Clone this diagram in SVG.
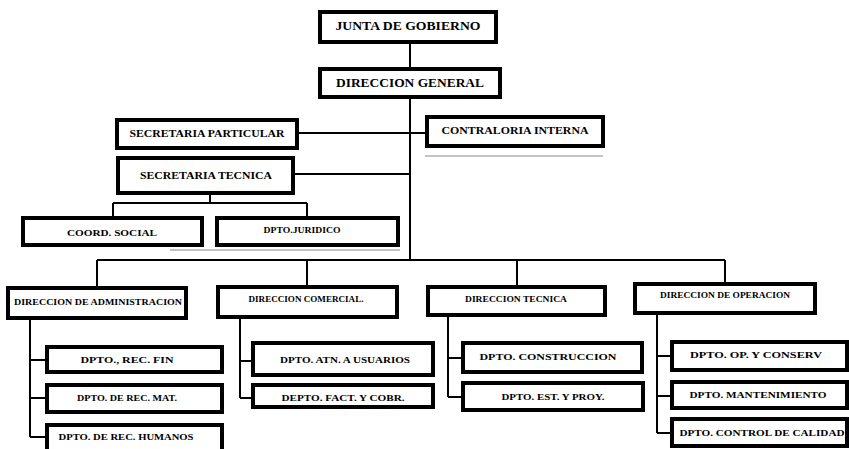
<svg xmlns="http://www.w3.org/2000/svg" width="849" height="449" viewBox="0 0 849 449">
<style>
.box{fill:#fff;stroke:#000;stroke-width:4}
.c{fill:none;stroke:#000;stroke-width:2}
.f{fill:none;stroke:#888;stroke-width:1.2}
text{font-family:"Liberation Serif","Times New Roman",serif;font-weight:bold;fill:#000;text-anchor:middle}
.t1{font-size:12px}
.t2{font-size:10.5px}
.t3{font-size:9px}
</style>
<rect width="849" height="449" fill="#fff"/>
<g id="connectors">
<path class="c" d="M410 42V69M410 97V260M297 133H427M293 174H410"/>
<path class="c" d="M210 193V203M113 203H307M113 203V218M307 203V218"/>
<path class="c" d="M97 260H725M97 260V288M307 260V287M517 260V287M725 260V284"/>
<path class="c" d="M30 318V437M30 360H47M30 398H47M30 437H47"/>
<path class="c" d="M240 317V398M240 361H253M240 398H253"/>
<path class="c" d="M448 315V397M448 358H463M448 397H463"/>
<path class="c" d="M657 313V433M657 356H672M657 396H672M657 433H672"/>
<path class="f" d="M425 156H603M170 250H400"/>
</g>
<g id="junta"><rect class="box" x="320" y="12" width="176" height="30"/><text class="t1" x="408" y="30" textLength="145" lengthAdjust="spacingAndGlyphs">JUNTA DE GOBIERNO</text></g>
<g id="dg"><rect class="box" x="320" y="69" width="180" height="28"/><text class="t1" x="410" y="87" textLength="148" lengthAdjust="spacingAndGlyphs">DIRECCION GENERAL</text></g>
<g id="sec-part"><rect class="box" x="117" y="120" width="180" height="28"/><text class="t2" x="207" y="137" textLength="155" lengthAdjust="spacingAndGlyphs">SECRETARIA PARTICULAR</text></g>
<g id="contraloria"><rect class="box" x="427" y="117" width="176" height="29"/><text class="t2" x="515" y="134" textLength="147" lengthAdjust="spacingAndGlyphs">CONTRALORIA INTERNA</text></g>
<g id="sec-tec"><rect class="box" x="118" y="158" width="175" height="35"/><text class="t2" x="206" y="179" textLength="132" lengthAdjust="spacingAndGlyphs">SECRETARIA TECNICA</text></g>
<g id="coord"><rect class="box" x="23" y="218" width="179" height="27"/><text class="t3" x="112" y="236" textLength="90" lengthAdjust="spacingAndGlyphs">COORD. SOCIAL</text></g>
<g id="juridico"><rect class="box" x="217" y="218" width="181" height="27"/><text class="t3" x="302" y="233" textLength="77" lengthAdjust="spacingAndGlyphs">DPTO.JURIDICO</text></g>
<g id="dir-admin"><rect class="box" x="8" y="288" width="178" height="30"/><text class="t3" x="98" y="305" textLength="168" lengthAdjust="spacingAndGlyphs">DIRECCION DE ADMINISTRACION</text></g>
<g id="dir-com"><rect class="box" x="218" y="287" width="179" height="30"/><text class="t3" x="306" y="302" textLength="115" lengthAdjust="spacingAndGlyphs">DIRECCION COMERCIAL.</text></g>
<g id="dir-tec"><rect class="box" x="428" y="287" width="177" height="28"/><text class="t3" x="516" y="302" textLength="102" lengthAdjust="spacingAndGlyphs">DIRECCION TECNICA</text></g>
<g id="dir-op"><rect class="box" x="635" y="284" width="180" height="29"/><text class="t3" x="725" y="298" textLength="130" lengthAdjust="spacingAndGlyphs">DIRECCION DE OPERACION</text></g>
<g id="rec-fin"><rect class="box" x="47" y="347" width="175" height="25"/><text class="t3" x="127" y="363" textLength="93" lengthAdjust="spacingAndGlyphs">DPTO., REC. FIN</text></g>
<g id="rec-mat"><rect class="box" x="47" y="385" width="175" height="27"/><text class="t3" x="127" y="401" textLength="100" lengthAdjust="spacingAndGlyphs">DPTO. DE REC. MAT.</text></g>
<g id="rec-hum"><rect class="box" x="47" y="425" width="175" height="35"/><text class="t3" x="126" y="440" textLength="135" lengthAdjust="spacingAndGlyphs">DPTO. DE REC. HUMANOS</text></g>
<g id="atn"><rect class="box" x="253" y="343" width="180" height="32"/><text class="t3" x="345" y="363" textLength="130" lengthAdjust="spacingAndGlyphs">DPTO. ATN. A USUARIOS</text></g>
<g id="fact"><rect class="box" x="253" y="385" width="180" height="22"/><text class="t3" x="343" y="401" textLength="123" lengthAdjust="spacingAndGlyphs">DEPTO. FACT. Y COBR.</text></g>
<g id="constr"><rect class="box" x="463" y="343" width="179" height="29"/><text class="t3" x="548" y="360" textLength="137" lengthAdjust="spacingAndGlyphs">DPTO. CONSTRUCCION</text></g>
<g id="est"><rect class="box" x="463" y="383" width="180" height="27"/><text class="t3" x="553" y="400" textLength="103" lengthAdjust="spacingAndGlyphs">DPTO. EST. Y PROY.</text></g>
<g id="op-cons"><rect class="box" x="672" y="342" width="175" height="28"/><text class="t3" x="756" y="358" textLength="132" lengthAdjust="spacingAndGlyphs">DPTO. OP. Y CONSERV</text></g>
<g id="mant"><rect class="box" x="672" y="382" width="175" height="26"/><text class="t3" x="758" y="398" textLength="137" lengthAdjust="spacingAndGlyphs">DPTO. MANTENIMIENTO</text></g>
<g id="calidad"><rect class="box" x="672" y="419" width="175" height="27"/><text class="t3" x="762" y="436" textLength="165" lengthAdjust="spacingAndGlyphs">DPTO. CONTROL DE CALIDAD</text></g>
</svg>
